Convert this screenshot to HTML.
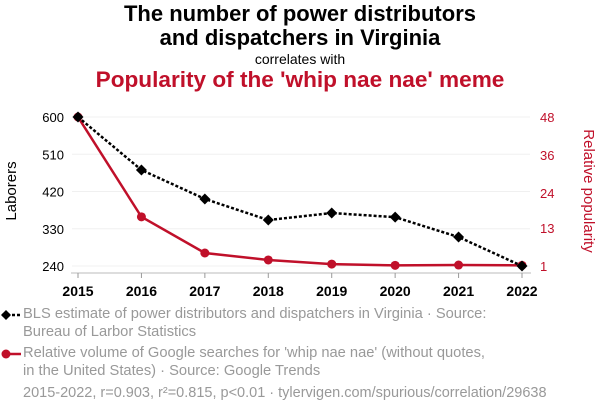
<!DOCTYPE html>
<html><head><meta charset="utf-8"><style>
body{margin:0;background:#fff;font-family:"Liberation Sans",sans-serif;}
#wrap{position:relative;width:600px;height:414px;overflow:hidden;}
.t{position:absolute;left:0;width:600px;text-align:center;}
.leg{position:absolute;left:23px;font-size:14.7px;color:#999;line-height:17.5px;white-space:nowrap;}
</style></head><body>
<div id="wrap">
<div class="t" style="top:2px;font-size:22px;font-weight:bold;line-height:24px;color:#000">The number of power distributors<br>and dispatchers in Virginia</div>
<div class="t" style="top:51px;font-size:14px;color:#000">correlates with</div>
<div class="t" style="top:67px;font-size:22.6px;font-weight:bold;color:#c0102a">Popularity of the 'whip nae nae' meme</div>
<svg id="svg" width="600" height="414" style="position:absolute;left:0;top:0"></svg>
<div class="leg" style="top:306px">BLS estimate of power distributors and dispatchers in Virginia · Source:<br>Bureau of Larbor Statistics</div>
<div class="leg" style="top:345px">Relative volume of Google searches for 'whip nae nae' (without quotes,<br>in the United States) · Source: Google Trends</div>
<div class="leg" style="top:385px;left:23px;font-size:14.5px">2015-2022, r=0.903, r²=0.815, p&lt;0.01 · tylervigen.com/spurious/correlation/29638</div>
</div>
<script>
const years=[2015,2016,2017,2018,2019,2020,2021,2022];
const laborers=[600,472,402,351,368,358,310,240];
const popularity=[48,16.5,5.1,2.9,1.6,1.2,1.3,1.2];
const leftTicks=[240,330,420,510,600];
const rightTicks=[1,13,24,36,48];
const NS="http://www.w3.org/2000/svg";
const svg=document.getElementById('svg');
const x=i=>78+i*(522-78)/7;
const yl=v=>266-(v-240)/(600-240)*149;
const yr=v=>266-(v-1)/(48-1)*149;
function mk(t,a){const e=document.createElementNS(NS,t);for(const k in a)e.setAttribute(k,a[k]);svg.appendChild(e);return e;}
leftTicks.forEach((v,i)=>{
 const g=mk('line',{x1:72,x2:530,y1:yl(v),y2:yl(v),stroke:'#f0f0f0'});
 
 const t=mk('text',{x:64,y:yl(v)+5,'text-anchor':'end','font-size':13,fill:'#000'});t.textContent=v;
 
});
rightTicks.forEach(v=>{
 const t=mk('text',{x:540,y:yr(v)+5,'font-size':13,fill:'#c0102a'});t.textContent=v;
 
});
const ax=mk('line',{x1:71,x2:531,y1:273,y2:273,stroke:'#bbb'});

years.forEach((yv,i)=>{
 const tk=mk('line',{x1:x(i),x2:x(i),y1:273,y2:278,stroke:'#999'});
 
 const t=mk('text',{x:x(i),y:296,'text-anchor':'middle','font-size':14,'font-weight':'bold',fill:'#000'});t.textContent=yv;
 
});
let t1=mk('text',{transform:'translate(16,191) rotate(-90)','text-anchor':'middle','font-size':15,fill:'#000'});t1.textContent='Laborers';

let t2=mk('text',{transform:'translate(584,191) rotate(90)','text-anchor':'middle','font-size':15,fill:'#c0102a'});t2.textContent='Relative popularity';

const rl=mk('polyline',{points:popularity.map((v,i)=>x(i)+','+yr(v)).join(' '),fill:'none',stroke:'#c0102a','stroke-width':2.5});

popularity.forEach((v,i)=>{const c=mk('circle',{cx:x(i),cy:yr(v),r:4.5,fill:'#c0102a'});
 });
const bl=mk('polyline',{points:laborers.map((v,i)=>x(i)+','+yl(v)).join(' '),fill:'none',stroke:'#000','stroke-width':2.5,'stroke-dasharray':'3,2'});

laborers.forEach((v,i)=>{const X=x(i),Y=yl(v);const d=mk('polygon',{points:`${X},${Y-5.5} ${X+5.5},${Y} ${X},${Y+5.5} ${X-5.5},${Y}`,fill:'#000'});
 });
const l1=mk('line',{x1:2,x2:21,y1:315,y2:315,stroke:'#000','stroke-width':2.5,'stroke-dasharray':'3,2'});

const d1=mk('polygon',{points:'6,310 11,315 6,320 1,315',fill:'#000'});

const l2=mk('line',{x1:2,x2:21,y1:354,y2:354,stroke:'#c0102a','stroke-width':2.5});

const c2=mk('circle',{cx:6,cy:354,r:4.5,fill:'#c0102a'});

</script>
</body></html>
